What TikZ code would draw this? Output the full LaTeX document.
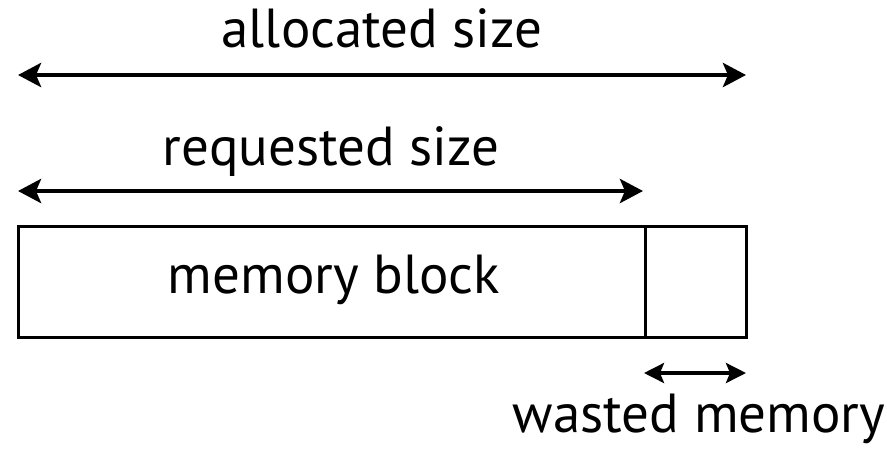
\documentclass[tikz,border=0pt]{standalone}
\usepackage{fontspec}
\setmainfont{PT Sans}
\usetikzlibrary{arrows.meta}
\begin{document}
\begin{tikzpicture}[x=1pt,y=-1pt,
  lab/.style={inner sep=0pt, anchor=base, font=\fontsize{55}{66}\selectfont},
  cell/.style={draw, line width=3pt, minimum height=111pt, inner sep=0pt},
  dim/.style={line width=4.5pt, {Stealth[length=23pt,width=24pt,inset=5pt]}-{Stealth[length=23pt,width=24pt,inset=5pt]}},
  smalldim/.style={line width=3.5pt, {Stealth[length=20pt,width=20pt,inset=4pt]}-{Stealth[length=20pt,width=20pt,inset=4pt]}}]
\useasboundingbox (0,0) rectangle (887,451);
\node[cell, minimum width=627pt] (block) at (331.5,281.5) {};
\node[cell, minimum width=101pt] (waste) at (695.5,281.5) {};
\node[lab] (blocklab) at (334,293) {memory block};
\node[lab] (alloc) at (382,47) {allocated size};
\node[lab] (req) at (331,165) {requested size};
\node[lab] (wlab) at (699,432) {wasted memory};
\coordinate (a1) at (18,75);
\coordinate (a2) at (746,75);
\coordinate (r1) at (18,191);
\coordinate (r2) at (643,191);
\coordinate (w1) at (644,373);
\coordinate (w2) at (746,373);
\draw[dim] (a1) -- (a2);
\draw[dim] (r1) -- (r2);
\draw[smalldim] (w1) -- (w2);
\end{tikzpicture}
\end{document}
